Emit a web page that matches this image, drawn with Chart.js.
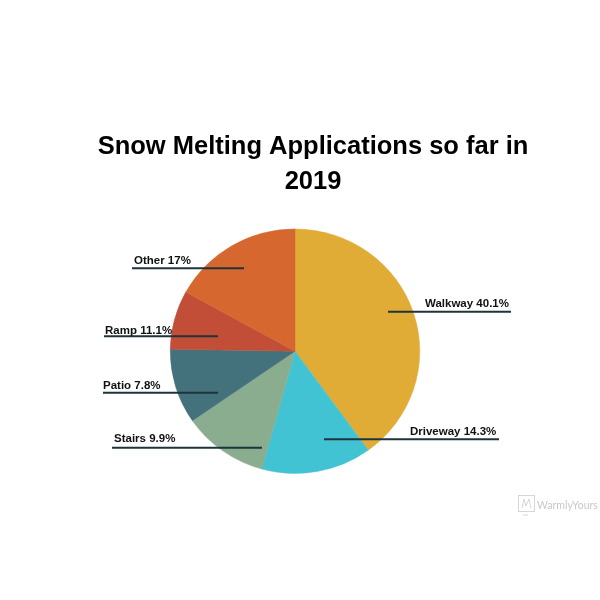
<!DOCTYPE html>
<html>
<head>
<meta charset="utf-8">
<style>html,body{margin:0;padding:0;background:#fff}#w{width:600px;height:600px}canvas{display:block}</style>
<script src="https://cdn.jsdelivr.net/npm/chart.js@4"></script>
</head>
<body>
<div id="w"><canvas id="c" width="600" height="600"></canvas></div>
<script>
const categories = ['Walkway', 'Driveway', 'Stairs', 'Patio', 'Ramp', 'Other'];
// Percentages printed beside each slice in the picture
const printedLabels = ['Walkway 40.1%', 'Driveway 14.3%', 'Stairs 9.9%', 'Patio 7.8%', 'Ramp 11.1%', 'Other 17%'];
// Slice sizes as they are drawn in the picture, clockwise from the top
const sliceValues = [40.1, 14.3, 11.1, 9.9, 7.8, 17];
const sliceColors = ['#E0AC36', '#41C3D3', '#8AAC8F', '#43727C', '#C34E38', '#D5672F'];
const titleLines = ['Snow Melting Applications so far in', '2019'];
const watermark = 'WarmlyYours';

// Call-out geometry, relative to the pie centre
const callouts = [
  {x1: 93,   x2: 216,  y: -39.5, tx: 130,  ty: -44},
  {x1: 29,   x2: 204,  y: 88,    tx: 115,  ty: 84},
  {x1: -183, x2: -33,  y: 96.5,  tx: -181, ty: 90.5},
  {x1: -192, x2: -77,  y: 41.5,  tx: -192, ty: 37.5},
  {x1: -191, x2: -77,  y: -15,   tx: -190, ty: -17.5},
  {x1: -163, x2: -51,  y: -83,   tx: -161, ty: -87.5}
];
const yScale = 0.98;

const squash = {
  id: 'squash',
  beforeDatasetsDraw(c) {
    const a = c.getDatasetMeta(0).data[0];
    c.ctx.save();
    c.ctx.translate(0, a.y);
    c.ctx.scale(1, yScale);
    c.ctx.translate(0, -a.y);
  },
  afterDatasetsDraw(c) { c.ctx.restore(); }
};

const titleBox = {
  id: 'titleBox',
  afterLayout(c) { c.titleBlock.left = 26; c.titleBlock.right = 600; }
};

const overlay = {
  id: 'overlay',
  afterDraw(c) {
    const ctx = c.ctx, a = c.getDatasetMeta(0).data[0];
    ctx.save();
    callouts.forEach((k, i) => {
      ctx.strokeStyle = '#1C343A';
      ctx.lineWidth = 2;
      ctx.beginPath();
      ctx.moveTo(a.x + k.x1, a.y + k.y);
      ctx.lineTo(a.x + k.x2, a.y + k.y);
      ctx.stroke();
      ctx.fillStyle = '#111';
      ctx.font = 'bold 11.5px "Liberation Sans"';
      ctx.textAlign = 'left';
      ctx.textBaseline = 'alphabetic';
      ctx.fillText(printedLabels[i], a.x + k.tx, a.y + k.ty);
    });
    // watermark
    ctx.strokeStyle = '#d6d6d6';
    ctx.lineWidth = 1;
    ctx.strokeRect(518.5, 495.5, 16, 16);
    ctx.beginPath();
    ctx.moveTo(522, 508); ctx.lineTo(524, 499); ctx.lineTo(526, 506); ctx.lineTo(529, 499); ctx.lineTo(531, 508);
    ctx.moveTo(523, 515); ctx.lineTo(528, 515);
    ctx.stroke();
    ctx.fillStyle = '#c8c8c8';
    ctx.font = '10.5px Lato';
    ctx.fillText(watermark, 537, 509);
    ctx.restore();
  }
};

new Chart(document.getElementById('c'), {
  type: 'pie',
  data: {
    labels: categories,
    datasets: [{ data: sliceValues, backgroundColor: sliceColors, borderColor: sliceColors, borderWidth: 0.5 }]
  },
  options: {
    responsive: false,
    animation: false,
    rotation: 0,
    layout: { padding: { left: 170, right: 180, top: 0, bottom: 123.5 } },
    plugins: {
      legend: { display: false },
      tooltip: { enabled: false },
      title: {
        display: true,
        text: titleLines,
        color: '#000',
        align: 'center',
        font: { family: '"Liberation Sans"', size: 25.5, weight: 'bold', lineHeight: 1.37 },
        padding: { top: 130, bottom: 26 }
      }
    }
  },
  plugins: [squash, titleBox, overlay]
});
</script>
</body>
</html>
